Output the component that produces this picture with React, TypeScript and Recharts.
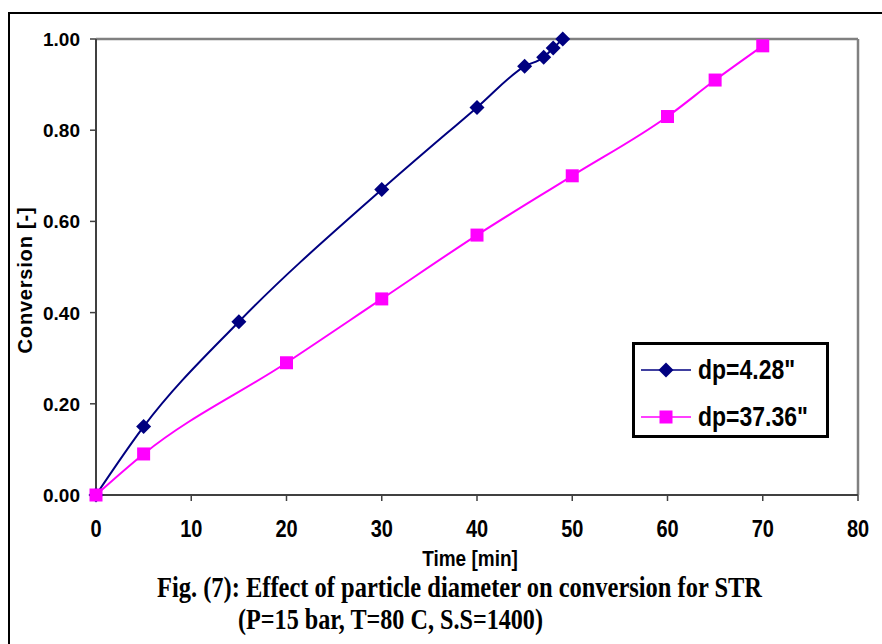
import React from 'react';
import { LineChart, Line, XAxis, YAxis, ReferenceLine, Legend } from 'recharts';

// ---- data ----
const timeSmall = [0, 5, 15, 30, 40, 45, 47, 48, 49];
const convSmall = [0, 0.15, 0.38, 0.67, 0.85, 0.94, 0.96, 0.98, 1.0];
const timeLarge = [0, 5, 20, 30, 40, 50, 60, 65, 70];
const convLarge = [0, 0.09, 0.29, 0.43, 0.57, 0.7, 0.83, 0.91, 0.985];
const xTicks = [0, 10, 20, 30, 40, 50, 60, 70, 80];
const yTicks = [0, 0.2, 0.4, 0.6, 0.8, 1.0];
const seriesNames = ['dp=4.28"', 'dp=37.36"'];
const xTitle = 'Time [min]';
const yTitle = 'Conversion [-]';
const captionLines = [
  'Fig. (7): Effect of particle diameter on conversion for STR',
  '(P=15 bar, T=80 C, S.S=1400)',
];

const smallData = timeSmall.map((t, i) => ({ t, c: convSmall[i] }));
const largeData = timeLarge.map((t, i) => ({ t, c: convLarge[i] }));

const NAVY = '#000080';
const MAGENTA = '#FF00FF';
const SANS = '"Liberation Sans", Arial, sans-serif';
const SERIF = '"Liberation Serif", "Times New Roman", serif';

const Diamond = ({ cx, cy, r = 7.5, fill = NAVY }: any) => (
  <polygon points={`${cx},${cy - r} ${cx + r},${cy} ${cx},${cy + r} ${cx - r},${cy}`} fill={fill} />
);
const Square = ({ cx, cy, s = 13, fill = MAGENTA }: any) => (
  <rect x={cx - s / 2} y={cy - s / 2} width={s} height={s} fill={fill} />
);

const diamondDot = (p: any) =>
  p.cx == null ? null : <Diamond key={`d-${p.index}`} cx={p.cx} cy={p.cy} />;
const squareDot = (p: any) =>
  p.cx == null ? null : <Square key={`s-${p.index}`} cx={p.cx} cy={p.cy} />;

const XTick = (p: any) => (
  <text
    transform={`translate(${p.x},${p.y + 36}) scale(1,1.2)`}
    textAnchor="middle"
    fontFamily={SANS}
    fontWeight="bold"
    fontSize={20}
    fill="#000"
  >
    {p.payload.value}
  </text>
);

const YTick = (p: any) => (
  <text
    x={p.x}
    y={p.y + 7}
    textAnchor="end"
    fontFamily={SANS}
    fontWeight="bold"
    fontSize={19}
    fill="#000"
  >
    {Number(p.payload.value).toFixed(2)}
  </text>
);

const XLabel = (p: any) => {
  const vb = p.viewBox;
  return (
    <text
      transform={`translate(${vb.x + vb.width / 2 - 7},${vb.y + 71}) scale(1,1.2)`}
      textAnchor="middle"
      fontFamily={SANS}
      fontWeight="bold"
      fontSize={19}
      fill="#000"
    >
      {xTitle}
    </text>
  );
};

const YLabel = (p: any) => {
  const vb = p.viewBox;
  return (
    <text
      transform={`translate(${vb.x - 4},${vb.y + vb.height / 2 + 13}) rotate(-90)`}
      textAnchor="middle"
      fontFamily={SANS}
      fontWeight="bold"
      fontSize={20}
      letterSpacing={0.8}
      fill="#000"
    >
      {yTitle}
    </text>
  );
};

const LegendBox = (props: any) => {
  const payload = [...(props.payload || [])].sort(
    (a: any, b: any) => seriesNames.indexOf(a.value) - seriesNames.indexOf(b.value)
  );
  const rows = [25, 72];
  return (
    <div
      style={{
        width: 191,
        height: 90,
        border: '3px solid #000',
        background: '#fff',
        position: 'relative',
      }}
    >
      <svg width={191} height={90} style={{ position: 'absolute', left: 0, top: 0 }}>
        {payload.map((entry: any, i: number) => {
          const y = rows[i];
          const color = entry.color;
          return (
            <g key={i}>
              <line x1={6} x2={56} y1={y} y2={y} stroke={color} strokeWidth={1.5} />
              {entry.value === seriesNames[0] ? (
                <Diamond cx={31} cy={y} r={7.5} fill={color} />
              ) : (
                <Square cx={31} cy={y} s={13} fill={color} />
              )}
              <text
                transform={`translate(63,${y + 9}) scale(1,1.2)`}
                fontFamily={SANS}
                fontWeight="bold"
                fontSize={23}
                fill="#000"
              >
                {entry.value}
              </text>
            </g>
          );
        })}
      </svg>
    </div>
  );
};

export default function App() {
  return (
    <div
      style={{
        position: 'fixed',
        left: 0,
        top: 0,
        width: 882,
        height: 644,
        overflow: 'hidden',
        background: '#fff',
      }}
    >
      <div
        style={{
          position: 'absolute',
          left: 8,
          top: 12,
          width: 1000,
          height: 1000,
          border: '2px solid #000',
        }}
      />
      <div style={{ position: 'absolute', left: 0, top: 0 }}>
        <LineChart
          width={882}
          height={600}
          margin={{ top: 39, right: 24, bottom: 75, left: 36 }}
        >
          <XAxis
            type="number"
            dataKey="t"
            domain={[0, 80]}
            ticks={xTicks}
            allowDuplicatedCategory={false}
            height={30}
            tickSize={6}
            tickMargin={0}
            axisLine={{ stroke: '#404040', strokeWidth: 2 }}
            tickLine={{ stroke: '#404040', strokeWidth: 1.5 }}
            tick={<XTick />}
            label={{ value: xTitle, content: <XLabel /> }}
          />
          <YAxis
            type="number"
            dataKey="c"
            domain={[0, 1]}
            ticks={yTicks}
            width={60}
            tickSize={6}
            tickMargin={10}
            axisLine={{ stroke: '#404040', strokeWidth: 2 }}
            tickLine={{ stroke: '#404040', strokeWidth: 1.5 }}
            tick={<YTick />}
            label={{ value: yTitle, content: <YLabel /> }}
          />
          <ReferenceLine y={1} stroke="#808080" strokeWidth={2.5} />
          <ReferenceLine x={80} stroke="#808080" strokeWidth={2.5} />
          <Legend
            layout="horizontal"
            verticalAlign="middle"
            align="center"
            content={<LegendBox />}
            wrapperStyle={{ left: 632, top: 342, width: 197, height: 96 }}
          />
          <Line
            data={smallData}
            dataKey="c"
            name={seriesNames[0]}
            type="monotone"
            stroke={NAVY}
            strokeWidth={2}
            dot={diamondDot}
            activeDot={false}
            isAnimationActive={false}
          />
          <Line
            data={largeData}
            dataKey="c"
            name={seriesNames[1]}
            type="monotone"
            stroke={MAGENTA}
            strokeWidth={2}
            dot={squareDot}
            activeDot={false}
            isAnimationActive={false}
          />
        </LineChart>
      </div>
      <svg
        width={882}
        height={644}
        style={{ position: 'absolute', left: 0, top: 0, pointerEvents: 'none' }}
      >
        <text
          transform="translate(459.5,597) scale(1,1.3)"
          textAnchor="middle"
          textLength={605}
          lengthAdjust="spacingAndGlyphs"
          fontFamily={SERIF}
          fontWeight="bold"
          fontSize={23}
          fill="#000"
        >
          {captionLines[0]}
        </text>
        <text
          transform="translate(390.5,629) scale(1,1.3)"
          textAnchor="middle"
          textLength={305}
          lengthAdjust="spacingAndGlyphs"
          fontFamily={SERIF}
          fontWeight="bold"
          fontSize={23}
          fill="#000"
        >
          {captionLines[1]}
        </text>
      </svg>
    </div>
  );
}
